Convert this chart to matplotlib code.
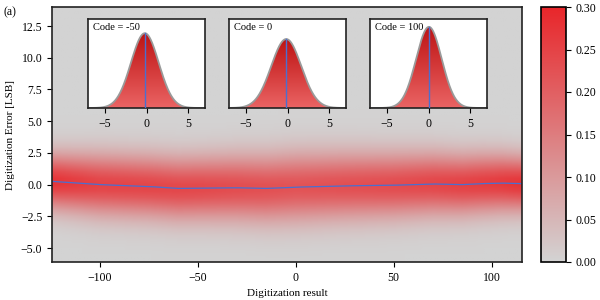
import numpy as np
import matplotlib
matplotlib.use("Agg")
import matplotlib.pyplot as plt
from matplotlib.colors import LinearSegmentedColormap

plt.rcParams['font.family'] = ['Liberation Serif', 'DejaVu Serif']
plt.rcParams['font.size'] = 8.5

# mean error per code
mean_codes = [-124, -100, -75, -60, -50, -30, -15, 0, 25, 50, 70, 85, 95, 105, 115]
mean_err = [0.25, 0.0, -0.15, -0.3, -0.28, -0.25, -0.3, -0.2, -0.1, -0.05, 0.05, 0.0, 0.08, 0.12, 0.08]
# spread of the error per code
sigma_codes = [-124, -100, -50, 0, 50, 100, 115]
sigma_err = [1.45, 1.6, 1.66, 1.8, 1.7, 1.53, 1.45]

# insets
inset_codes = [-50, 0, 100]
inset_mean = [-0.2, -0.15, 0.05]
inset_sigma = [1.66, 1.8, 1.53]

codes = np.arange(-124, 116)
err_bins = np.arange(-6, 14.01, 0.5)

mu = np.interp(codes, mean_codes, mean_err)
sg = np.interp(codes, sigma_codes, sigma_err)
dens = np.exp(-0.5 * ((err_bins[:, None] - mu[None, :]) / sg[None, :]) ** 2) / (sg[None, :] * np.sqrt(2 * np.pi))

cmap = LinearSegmentedColormap.from_list('gr', ['#d3d3d3', '#e8262a'])

fig = plt.figure(figsize=(6, 3), dpi=100)
ax = fig.add_axes([52 / 600, 38 / 300, 470 / 600, 255 / 300])
im = ax.imshow(dens, origin='lower', aspect='auto', cmap=cmap, vmin=0, vmax=0.3,
               extent=[codes[0] - 0.5, codes[-1] + 0.5, err_bins[0] - 0.25, err_bins[-1] + 0.25],
               interpolation='bilinear')
ax.plot(codes, mu, color='#4a6fd0', lw=0.9)
ax.set_xlim(-124.5, 115.5)
ax.set_ylim(-6.1, 14)
ax.set_yticks([-5, -2.5, 0, 2.5, 5, 7.5, 10, 12.5])
ax.set_yticklabels(['−5.0', '−2.5', '0.0', '2.5', '5.0', '7.5', '10.0', '12.5'])
ax.set_xticks([-100, -50, 0, 50, 100])
ax.set_xticklabels(['−100', '−50', '0', '50', '100'])
ax.set_xlabel('Digitization result', fontsize=8)
ax.set_ylabel('Digitization Error [LSB]', fontsize=8)
for s in ax.spines.values():
    s.set_linewidth(1.2)
    s.set_color('#222222')

cax = fig.add_axes([541 / 600, 38 / 300, 25 / 600, 255 / 300])
cb = fig.colorbar(im, cax=cax)
cb.set_ticks([0, 0.05, 0.1, 0.15, 0.2, 0.25, 0.3])
cb.set_ticklabels(['0.00', '0.05', '0.10', '0.15', '0.20', '0.25', '0.30'])
cb.outline.set_linewidth(1.2)

fig.text(3 / 600, 1 - 12 / 300, '(a)', va='center', ha='left')

grad_cmap = LinearSegmentedColormap.from_list('gd', ['#ea6464', '#d43a3a', '#bd1414'])
lefts = [88, 229, 370]
for left, code, m, s in zip(lefts, inset_codes, inset_mean, inset_sigma):
    ia = fig.add_axes([left / 600, 1 - 108 / 300, 117 / 600, 89 / 300])
    ia.set_facecolor('white')
    xs = np.linspace(-7, 7, 400)
    ys = np.exp(-0.5 * ((xs - m) / s) ** 2) / (s * np.sqrt(2 * np.pi))
    poly = ia.fill_between(xs, 0, ys, color='none')
    g = ia.imshow(np.linspace(0, 1, 256)[:, None], origin='lower', aspect='auto',
                  cmap=grad_cmap, extent=[-7, 7, 0, ys.max()], zorder=1)
    path = poly.get_paths()[0]
    g.set_clip_path(path, transform=ia.transData)
    ia.plot(xs, ys, color='#9a9a9a', lw=1.3, zorder=2)
    ia.plot([m, m], [0, ys.max()], color='#4a6fd0', lw=1.0, zorder=3)
    ia.set_xlim(-7, 7)
    ia.set_ylim(0, 0.286)
    ia.set_yticks([])
    ia.set_xticks([-5, 0, 5])
    ia.set_xticklabels(['−5', '0', '5'])
    ia.text(0.04, 0.95, f'Code = {code}', transform=ia.transAxes, va='top', ha='left', fontsize=7.5)
    for sp in ia.spines.values():
        sp.set_linewidth(1.2)
        sp.set_color('#222222')

fig.savefig('out.png', dpi=100)
